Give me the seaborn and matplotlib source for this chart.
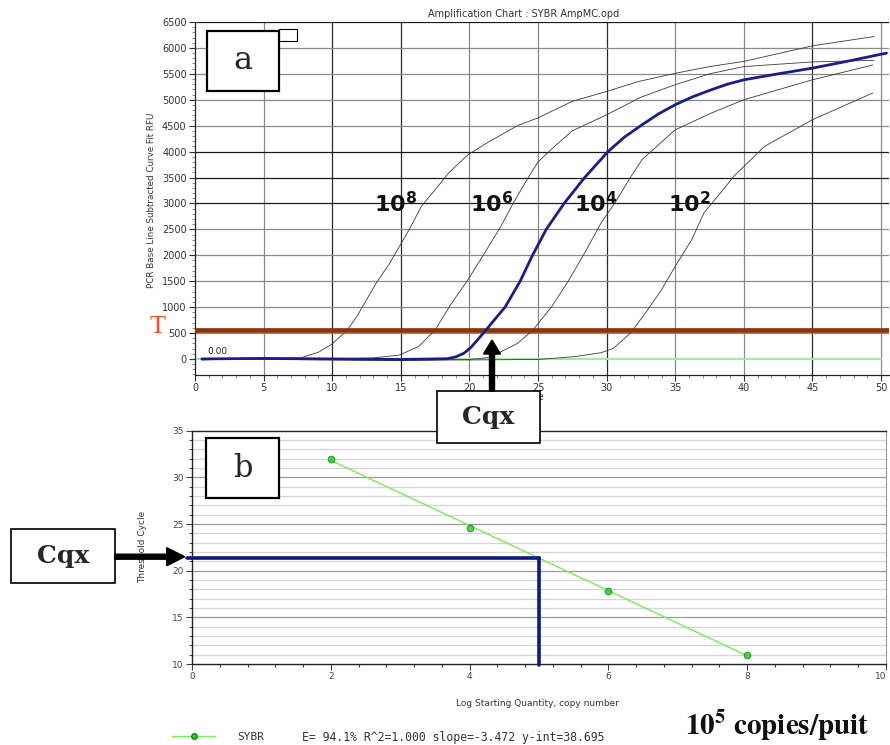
import matplotlib
matplotlib.use('Agg')
import matplotlib.pyplot as plt
import matplotlib.patches as patches
from matplotlib.lines import Line2D
from matplotlib.ticker import MultipleLocator
import seaborn as sns

W, H = 890, 745

# amplification curves, cycle vs RFU
c8_x = [0.5, 3, 6, 7.7, 9, 10, 11.1, 11.8, 13.2, 14.2, 14.9, 15.6, 16.5, 17.3, 18.5, 19.9,
        21.3, 23.5, 25, 27.5, 30, 32.3, 35, 37.5, 40, 42.5, 45, 49.5]
c8_y = [-20, 10, 10, 20, 130, 290, 560, 820, 1460, 1850, 2170, 2490, 2945, 3200, 3590, 3940,
        4170, 4500, 4650, 4970, 5160, 5350, 5510, 5640, 5740, 5890, 6040, 6220]

c6_x = [0.5, 5, 10, 13, 14.9, 16.3, 17.5, 18.7, 19.9, 21.1, 22.3, 23.2, 24.2, 25, 26.2, 27.5,
        30, 32.5, 35, 37.5, 40, 45, 49.5]
c6_y = [0, 0, 0, 20, 75, 240, 560, 1075, 1530, 2040, 2560, 3010, 3460, 3800, 4100, 4400,
        4710, 5050, 5290, 5500, 5640, 5730, 5760]

c4_x = [0.5, 10, 15, 20, 21.5, 22.1, 23.5, 24.6, 26, 27.2, 28.4, 29.6, 30.6, 31.8, 32.6,
        35, 37.6, 40, 45, 49.4]
c4_y = [0, -20, -30, -10, 30, 110, 300, 550, 1010, 1500, 2045, 2625, 3010, 3530, 3850,
        4420, 4740, 5000, 5385, 5670]

c2_x = [0.5, 10, 20, 25, 27.7, 29.6, 30.5, 31.6, 32.1, 33.0, 34.0, 35.0, 36.2, 37.1, 38.1,
        39.3, 41.5, 45, 49.4]
c2_y = [0, -10, -20, -10, 45, 120, 206, 465, 626, 950, 1335, 1787, 2300, 2820, 3140,
        3530, 4100, 4615, 5130]

sx_x = [0.5, 5, 10, 15, 17.5, 18.4, 19.0, 19.6, 20.1, 20.6, 21.2, 21.9, 22.6, 23.7, 24.6,
        25.6, 26.9, 28.4, 30.1, 31.3, 32.6, 33.8, 35, 36.3, 37.6, 38.8, 40, 42.5, 45, 47.5, 50.4]
sx_y = [0, 10, 0, -10, 0, 5, 40, 110, 220, 370, 555, 780, 1000, 1500, 2000,
        2500, 3000, 3500, 4000, 4280, 4520, 4730, 4904, 5060, 5190, 5300, 5385, 5500, 5610, 5740, 5900]

std_labels = ['8', '6', '4', '2']
std_label_x = [14.6, 21.6, 29.2, 36.0]
std_label_y = 3000

threshold = 555

# standard curve
log_qty = [2, 4, 6, 8]
cq = [32.0, 24.6, 17.8, 11.0]
sample_log = 5
sample_cq = 21.33


def fx(px):
    return px / W


def fy(py):
    return 1 - py / H


sns.set_style('white')
plt.rcParams['font.family'] = ['DejaVu Sans']

fig = plt.figure(figsize=(8.9, 7.45), dpi=100)

# ---------------- a: amplification chart ----------------
ax = fig.add_axes([fx(195), fy(375), fx(889) - fx(195), fy(22) - fy(375)])
ax.set_xlim(0, 50.58)
ax.set_ylim(-310, 6500)

dark_v = [10, 15, 30, 45]
for v in range(5, 51, 5):
    ax.axvline(v, color='#2a2a2a' if v in dark_v else '#8a8a8a', lw=0.9, zorder=0)
dark_h = [3000, 3500, 4000, 6500]
for h in range(500, 6501, 500):
    ax.axhline(h, color='#1a1a1a' if h in dark_h else '#8a8a8a', lw=0.9, zorder=0)

ax.axhline(0, xmax=50 / 50.58, color='#9af09a', lw=1.4, zorder=1)

for xs, ys in [(c8_x, c8_y), (c6_x, c6_y), (c4_x, c4_y), (c2_x, c2_y)]:
    sns.lineplot(x=xs, y=ys, ax=ax, color='#3a3a3a', lw=0.6, estimator=None, zorder=2)
sns.lineplot(x=sx_x, y=sx_y, ax=ax, color='#1c1c8c', lw=2.0, estimator=None, zorder=4)

ax.axhline(threshold, color='#8a3608', lw=3.4, zorder=3)

for lab, lx in zip(std_labels, std_label_x):
    ax.text(lx, std_label_y, r'$\mathbf{10}^{\mathbf{%s}}$' % lab, ha='center', va='center',
            fontsize=16, color='#111111', math_fontfamily='dejavusans', zorder=5)

ax.text(0.9, 60, '0.00', fontsize=6.5, color='#222222', ha='left', va='bottom')

ax.set_xticks(range(0, 51, 5))
ax.set_yticks(range(0, 6501, 500))
ax.xaxis.set_minor_locator(MultipleLocator(1))
ax.yaxis.set_minor_locator(MultipleLocator(100))
ax.tick_params(which='major', direction='out', length=4, width=0.8, labelsize=7,
               colors='#333333', pad=2, left=True, bottom=True)
ax.tick_params(which='minor', direction='out', length=2, width=0.6, colors='#777777',
               left=True, bottom=True)
for s in ['top', 'right']:
    ax.spines[s].set_visible(False)
for s in ['left', 'bottom']:
    ax.spines[s].set_color('#222222')
    ax.spines[s].set_linewidth(0.9)

fig.text(fx(524), fy(14), 'Amplification Chart : SYBR AmpMC.opd', fontsize=7, color='#333333',
         ha='center', va='center')
fig.text(fx(152), fy(200), 'PCR Base Line Subtracted Curve Fit RFU', rotation=90, fontsize=6.3,
         color='#333333', ha='center', va='center')
fig.text(fx(531), fy(397), 'Cycle', fontsize=7, color='#333333', ha='center', va='center', zorder=1)
fig.text(fx(158), fy(327), 'T', fontsize=19, color='#ff4a2a', ha='center', va='center',
         family='Liberation Serif')

# ---------------- b: standard curve ----------------
ax2 = fig.add_axes([fx(192), fy(664), fx(886) - fx(192), fy(430.7) - fy(664)])
ax2.set_xlim(0, 10)
ax2.set_ylim(10, 35)
for v in range(11, 35):
    ax2.axhline(v, color='#9a9a9a' if v % 5 == 0 else '#d6d6d6', lw=0.9, zorder=0)

sns.regplot(x=log_qty, y=cq, ax=ax2, ci=None, truncate=True,
            scatter_kws=dict(s=22, color='#22cc22', edgecolor='#118811', linewidths=0.8, zorder=4),
            line_kws=dict(color='#77ee55', lw=1.0, zorder=3))

ax2.plot([-0.07, sample_log], [sample_cq, sample_cq], color='#0d1a80', lw=2.6, clip_on=False, zorder=5)
ax2.plot([sample_log, sample_log], [sample_cq, 9.85], color='#0d1a80', lw=2.6, clip_on=False, zorder=5)

ax2.set_xticks(range(0, 11, 2))
ax2.set_yticks(range(10, 36, 5))
ax2.xaxis.set_minor_locator(MultipleLocator(0.4))
ax2.yaxis.set_minor_locator(MultipleLocator(1))
ax2.tick_params(which='major', direction='out', length=4, width=0.8, labelsize=6.5,
                colors='#444444', pad=2, left=True, bottom=True)
ax2.tick_params(which='minor', direction='out', length=2.5, width=0.8, colors='#444444',
                left=True, bottom=True)
ax2.get_xticklabels()[-1].set_horizontalalignment('right')
for s in ['left', 'bottom', 'top']:
    ax2.spines[s].set_color('#222222')
    ax2.spines[s].set_linewidth(1.0)
ax2.spines['right'].set_color('#999999')
ax2.set_xlabel('')
ax2.set_ylabel('')

fig.text(fx(538), fy(704), 'Log Starting Quantity, copy number', fontsize=6.5, color='#333333',
         ha='center', va='center')
fig.text(fx(143), fy(547), 'Threshold Cycle', rotation=90, fontsize=6.5, color='#333333',
         ha='center', va='center')

key = Line2D([], [], color='#77ee55', lw=1.0, marker='o', ms=4, mfc='#22cc22', mec='#118811')
ax2.legend(handles=[key], labels=['SYBR'], loc='center left', frameon=False,
           bbox_to_anchor=(fx(172), fy(737)), bbox_transform=fig.transFigure,
           prop=dict(family='DejaVu Sans Mono', size=8), handlelength=3.9, handletextpad=2.0,
           borderpad=0, borderaxespad=0, labelcolor='#333333')
fig.text(fx(302), fy(737), 'E= 94.1% R^2=1.000 slope=-3.472 y-int=38.695', fontsize=8.3,
         family='DejaVu Sans Mono', color='#333333', ha='left', va='center')

fig.text(fx(777), fy(725), r'$\mathbf{10^5\ copies/puit}$', fontsize=21, color='#111111',
         ha='center', va='center', math_fontfamily='stix')


# ---------------- annotation boxes and arrows ----------------
def box(x0, y0, x1, y1, text, lw=1.2, **kw):
    r = patches.Rectangle((fx(x0), fy(y1)), fx(x1) - fx(x0), fy(y0) - fy(y1),
                          transform=fig.transFigure, fc='white', ec='black', lw=lw, zorder=10)
    fig.add_artist(r)
    if text:
        fig.text(fx((x0 + x1) / 2), fy((y0 + y1) / 2), text, ha='center', va='center',
                 zorder=11, **kw)


box(278.7, 29.3, 297.3, 41, '', lw=0.8)
box(206.7, 31, 278.7, 90.7, 'a', lw=1.6, fontsize=23, family='DejaVu Serif')
box(206.3, 438.3, 278.7, 498.3, 'b', lw=1.6, fontsize=22, family='DejaVu Serif')
box(437, 391, 540, 443, 'Cqx', fontsize=18, family='DejaVu Serif', fontweight='bold')
box(10.7, 529, 114.7, 583, 'Cqx', fontsize=18, family='DejaVu Serif', fontweight='bold')

fig.add_artist(patches.FancyArrow(4.92, (H - 391) / 100, 0, 0.51, width=0.05, head_width=0.17,
                                  head_length=0.14, length_includes_head=True, color='black',
                                  transform=fig.dpi_scale_trans, zorder=12))
fig.add_artist(patches.FancyArrow(1.147, (H - 556.7) / 100, 0.70, 0, width=0.05, head_width=0.18,
                                  head_length=0.18, length_includes_head=True, color='black',
                                  transform=fig.dpi_scale_trans, zorder=12))

fig.savefig('out.png', dpi=100)
